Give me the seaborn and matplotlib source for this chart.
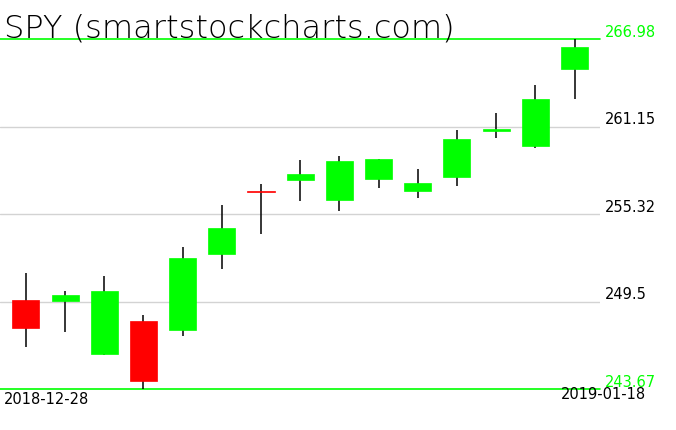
import matplotlib
matplotlib.use("Agg")
import matplotlib.pyplot as plt
import seaborn as sns
import numpy as np
import pandas as pd

# SPY daily candles
dates = ["2018-12-28", "2018-12-31", "2019-01-02", "2019-01-03", "2019-01-04",
         "2019-01-07", "2019-01-08", "2019-01-09", "2019-01-10", "2019-01-11",
         "2019-01-14", "2019-01-15", "2019-01-16", "2019-01-17", "2019-01-18"]
opens = [249.58, 249.56, 245.98, 248.23, 247.59, 252.69, 256.82, 257.56,
         256.26, 257.68, 256.86, 257.82, 260.83, 259.87, 264.98]
highs = [251.40, 250.19, 251.21, 248.57, 253.11, 255.95, 257.31, 258.91,
         259.16, 259.01, 258.30, 260.94, 262.06, 263.92, 266.98]
lows = [246.45, 247.47, 245.95, 243.67, 247.17, 251.69, 254.00, 256.19,
        255.50, 257.03, 256.41, 257.21, 260.36, 259.71, 263.00]
closes = [247.75, 249.92, 250.18, 244.21, 252.39, 254.38, 256.77, 257.97,
          258.88, 258.98, 257.40, 260.35, 260.98, 262.96, 266.46]

df = pd.DataFrame({"date": dates, "open": opens, "high": highs,
                   "low": lows, "close": closes})
df["pos"] = np.arange(len(df))

sns.set_style("white")
plt.rcParams["font.family"] = ["DejaVu Sans"]

fig = plt.figure(figsize=(6.76, 4.31), dpi=100)
ax = fig.add_axes([0, 41 / 431, 600 / 676, 350 / 431])

lo, hi = df["low"].min(), df["high"].max()
ticks = np.linspace(lo, hi, 5)

# grid lines
for t in ticks[1:-1]:
    ax.axhline(t, color="#d3d3d3", lw=1, zorder=0)
ax.axhline(hi, color="#00ff00", lw=1.2, zorder=1, clip_on=False)
ax.axhline(lo, color="#00ff00", lw=1.2, zorder=1, clip_on=False)

# wicks
ax.vlines(df["pos"], df["low"], df["high"], color="black", lw=1.1, zorder=2)

# bodies (doji gets a minimum height so it shows as a line)
up = df["close"] >= df["open"]
body = (df["close"] - df["open"]).abs().clip(lower=0.12)
bottom = df[["open", "close"]].min(axis=1)
colors = np.where(up, "#00ff00", "#ff0000")
ax.bar(df["pos"], body, bottom=bottom, width=0.69, color=colors,
       edgecolor=colors, linewidth=0.5, zorder=3)

ax.set_xlim(-0.66, len(df) - 0.35)
ax.set_ylim(lo, hi)
ax.set_xticks([])
ax.set_yticks([])
sns.despine(ax=ax, left=True, bottom=True)

# price labels on the right
ytr = ax.get_yaxis_transform()
for i, t in enumerate(ticks):
    lbl = f"{t:.2f}".rstrip("0").rstrip(".")
    col = "#00ff00" if i in (0, len(ticks) - 1) else "black"
    ax.text(1.008, t, lbl, transform=ytr, ha="left", va="bottom",
            fontsize=10.5, color=col, clip_on=False)

# date labels
fig.text(4 / 676, 1 - 400 / 431, dates[0], ha="left", va="center",
         fontsize=10.5, color="black")
fig.text(646 / 676, 1 - 395 / 431, dates[-1], ha="right", va="center",
         fontsize=10.5, color="black")

# title
fig.text(4 / 676, 1 - 38 / 431, "SPY (smartstockcharts.com)", ha="left",
         va="baseline", fontsize=23, fontweight="light", color="black")

fig.savefig("out.png", dpi=100)
